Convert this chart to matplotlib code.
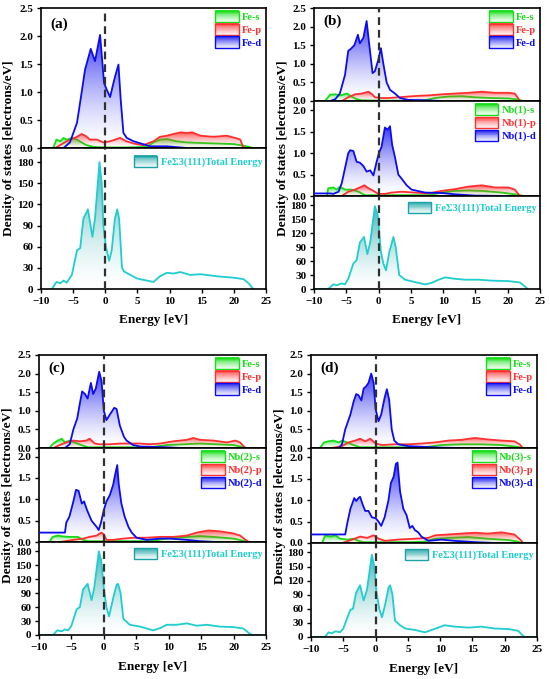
import numpy as np
import matplotlib
matplotlib.use("Agg")
import matplotlib.pyplot as plt
from matplotlib.patches import Polygon, Rectangle, Patch
from matplotlib.legend_handler import HandlerBase
from matplotlib.colors import to_rgb

plt.rcParams['font.family'] = ['Liberation Serif', 'DejaVu Serif']
plt.rcParams['font.weight'] = 'bold'

# ---------------- data ----------------
X_TICKS = [-10, -5, 0, 5, 10, 15, 20, 25]
PDOS_TICKS = [0.0, 0.5, 1.0, 1.5, 2.0, 2.5]
PDOS_TICKS_MID = [0.0, 0.5, 1.0, 1.5, 2.0]
TOT_TICKS = [0, 30, 60, 90, 120, 150, 180]
TOTAL_LABEL = "FeΣ3(111)Total Energy"
FE_LABELS = ["Fe-s", "Fe-p", "Fe-d"]
NB1_LABELS = ["Nb(1)-s", "Nb(1)-p", "Nb(1)-d"]
NB2_LABELS = ["Nb(2)-s", "Nb(2)-p", "Nb(2)-d"]
NB3_LABELS = ["Nb(3)-s", "Nb(3)-p", "Nb(3)-d"]

# panel (a)
A_E_S = [-8.1,-7.6,-7.0,-6.5,-6.0,-5.2,-4.4,-3.7,-2.9,-1.8,0,3,6.5,7.5,8.5,9.6,11.1,12.7,14.8,17.4,20.0,22.0,23.0]
A_S = [0,0.15,0.12,0.18,0.15,0.18,0.15,0.10,0.05,0.02,0.01,0.01,0.02,0.10,0.15,0.16,0.12,0.10,0.09,0.08,0.07,0.03,0]
A_E_P = [-7.8,-6.0,-4.4,-3.7,-3.1,-2.4,-1.3,-0.3,0.75,2.3,3.3,4.4,5.9,7.5,8.5,9.6,10.6,11.7,12.7,13.5,14.8,16.8,18.9,20.5,21.0,21.5]
A_P = [0,0.12,0.2,0.25,0.22,0.15,0.15,0.10,0.12,0.18,0.12,0.08,0.05,0.12,0.20,0.22,0.25,0.28,0.27,0.28,0.22,0.20,0.22,0.17,0.15,0.0]
A_E_D = [-6.5,-5.5,-4.4,-3.8,-3.15,-2.26,-1.6,-0.81,-0.19,0.23,0.75,1.27,1.53,2.05,2.4,2.82,3.34,4.4,7.0,9.6,12.7]
A_D = [0,0.1,0.45,0.9,1.4,1.77,1.55,2.02,1.16,1.04,0.91,1.16,1.28,1.49,0.86,0.27,0.18,0.12,0.03,0.03,0]
A_E_T = [-8.3,-7.6,-7.0,-6.5,-6.0,-5.2,-4.4,-3.9,-3.4,-2.7,-2.0,-1.6,-0.9,-0.55,-0.3,0.1,0.6,1.0,1.5,1.85,2.15,2.6,2.9,3.9,4.9,5.9,7.5,8.5,9.6,10.6,11.7,13.2,14.8,17.4,20.0,21.5,22.3,23.0]
A_T = [0,10,8,12,9,20,55,58,100,113,74,100,180,150,90,60,40,55,100,113,100,30,25,20,15,13,10,18,23,22,24,20,21,18,16,14,8,0]

# panel (b)
B_E_S = [-8.3,-7.5,-6.7,-6.0,-4.9,-4.2,-3.4,-2.6,0,4,7.2,8.7,10.8,12.9,14.9,17.5,20.1,21.6,22.4]
B_S = [0,0.17,0.18,0.15,0.2,0.12,0.05,0.02,0.01,0.01,0.02,0.08,0.12,0.13,0.10,0.08,0.07,0.04,0]
B_E_P = [-5.7,-4.7,-3.65,-2.6,-1.55,-1.0,-0.57,0.46,1.5,3.06,4.6,6.2,7.7,9.8,11.8,13.9,16.0,18.0,20.1,21.1,21.9]
B_P = [0,0.10,0.18,0.20,0.25,0.18,0.10,0.08,0.08,0.10,0.12,0.14,0.15,0.18,0.20,0.22,0.25,0.22,0.22,0.20,0]
B_E_D = [-7.5,-6.7,-6.0,-5.2,-4.7,-4.3,-3.75,-3.2,-2.9,-2.35,-1.85,-1.5,-0.93,-0.57,-0.05,0.36,0.74,1.25,1.77,2.55,3.3,4.6,7.2,9.8]
B_D = [0,0.05,0.2,0.7,1.35,1.4,1.5,1.78,1.55,1.7,2.15,1.6,0.75,0.8,1.1,1.42,1.0,0.5,0.3,0.2,0.08,0.03,0.02,0]
B_E_NS = [-8.0,-7.8,-7.0,-6.5,-6.0,-5.2,-4.2,-3.1,-2.1,0,5,7.7,9.8,11.8,13.9,16.0,19.1,21.6,22.4]
B_NS = [0,0.18,0.2,0.15,0.22,0.15,0.15,0.10,0.02,0.02,0.02,0.02,0.08,0.12,0.13,0.12,0.08,0.03,0]
B_E_NP = [-5.7,-4.7,-3.65,-2.6,-2.2,-1.55,-0.8,-0.05,1.0,2.0,3.6,5.6,7.7,9.8,11.8,13.9,16.0,18.0,20.1,21.1,21.9]
B_NP = [0,0.10,0.15,0.22,0.25,0.18,0.12,0.05,0.05,0.08,0.10,0.08,0.06,0.12,0.16,0.22,0.25,0.20,0.20,0.15,0]
B_E_ND = [-10,-7.5,-7.0,-6.2,-5.7,-5.2,-4.7,-4.4,-3.9,-3.4,-2.9,-2.35,-1.85,-1.3,-0.8,-0.3,0.05,0.46,0.98,1.4,1.77,2.1,2.55,3.06,3.6,4.35,5.1,7.2,9.8,11.8,14.9,20.1]
B_ND = [0.06,0.06,0.05,0.10,0.30,0.65,1.0,1.07,1.05,0.8,0.78,0.7,0.57,0.6,0.48,0.8,1.0,1.15,1.6,1.55,1.63,1.2,0.9,0.5,0.4,0.25,0.15,0.08,0.07,0.04,0.01,0]
B_E_T = [-10,-7.8,-7.0,-6.5,-5.7,-5.2,-4.7,-3.9,-3.4,-2.9,-2.25,-1.74,-1.3,-0.57,-0.15,0.36,0.74,1.15,1.67,2.3,2.65,3.2,4.1,5.6,7.2,8.2,9.3,10.3,11.8,13.4,15.5,17.5,20.1,21.9,22.7,23.1]
B_T = [0,0,10,8,12,10,22,55,62,100,112,75,100,178,160,80,55,40,80,112,90,30,20,15,10,13,20,25,22,20,20,18,17,14,5,0]

# panel (c)
C_E_S = [-8.4,-7.8,-7.1,-6.5,-6.0,-5.3,-4.5,-3.5,-2.4,0,5,7.2,9.7,12.3,14.8,17.4,20.0,22.1]
C_S = [0,0.12,0.2,0.25,0.15,0.2,0.15,0.08,0.02,0.02,0.02,0.02,0.08,0.10,0.12,0.10,0.08,0]
C_E_P = [-7.8,-6.8,-5.8,-4.7,-3.7,-2.7,-2.2,-1.4,-0.6,0.9,2.5,4.0,5.6,7.1,8.7,10.7,12.8,13.8,14.8,16.9,19.0,20.3,21.0,21.8]
C_P = [0,0.08,0.15,0.2,0.18,0.2,0.25,0.12,0.10,0.10,0.12,0.12,0.12,0.10,0.12,0.18,0.22,0.27,0.22,0.20,0.15,0.20,0.15,0]
C_E_D = [-6.0,-5.26,-4.7,-4.1,-3.7,-3.35,-2.9,-2.5,-2.0,-1.65,-1.24,-0.72,-0.36,0,0.4,0.93,1.6,1.96,2.47,3.1,3.5,4.5,5.6,7.6,9.7,11.8]
C_D = [0,0.10,0.5,0.8,1.2,1.52,1.45,1.33,1.75,1.45,1.6,2.05,1.8,1.0,0.75,0.9,1.08,1.05,0.6,0.3,0.2,0.08,0.04,0.03,0.02,0]
C_E_NS = [-8.4,-7.9,-7.1,-6.3,-5.3,-4.0,-3.2,-2.4,0,5,7.2,9.7,12.8,14.8,16.9,20.0,21.5,22.3]
C_NS = [0,0.12,0.15,0.13,0.12,0.12,0.05,0.02,0.02,0.02,0.02,0.08,0.12,0.14,0.12,0.08,0.03,0]
C_E_NP = [-6.8,-4.7,-3.2,-2.2,-1.1,-0.4,0,0.4,1.45,3.0,4.5,6.6,8.7,10.7,12.8,14.3,16.1,17.9,20.0,21.0,22.3]
C_NP = [0,0.05,0.08,0.12,0.15,0.22,0.18,0.05,0.05,0.08,0.10,0.10,0.12,0.12,0.15,0.22,0.27,0.25,0.20,0.15,0]
C_E_ND = [-10,-6.0,-5.8,-5.3,-4.7,-4.3,-3.9,-3.4,-3.05,-2.6,-1.9,-1.1,-0.8,-0.45,0,0.4,0.93,1.45,1.7,2.06,2.3,2.7,3.2,3.8,4.3,5.05,6.6,8.7,10.2,12.8,14.8,17.4]
C_ND = [0.22,0.22,0.45,0.6,0.95,1.22,1.2,0.9,0.95,0.75,0.5,0.35,0.28,0.45,0.75,0.95,1.1,1.35,1.55,1.8,1.35,0.9,0.6,0.35,0.22,0.10,0.05,0.08,0.08,0.05,0.02,0]
C_E_T = [-10,-7.8,-7.2,-6.5,-6.0,-5.5,-5.0,-4.2,-3.7,-3.2,-2.5,-1.9,-1.5,-0.77,-0.4,0,0.4,0.8,1.45,1.96,2.2,2.58,3.0,4.0,5.6,7.6,8.7,9.7,11.2,12.8,14.3,15.9,17.9,20.0,21.5,22.3,22.8,24.1]
C_T = [0,0,10,8,12,10,20,55,60,98,110,75,100,180,160,100,60,40,80,108,110,90,35,22,18,10,15,22,22,25,20,22,18,17,14,5,0,0]

# panel (d)
D_E_S = [-8.6,-8.0,-7.3,-6.5,-5.7,-5.2,-4.4,-3.4,-2.4,0,5,7.5,10.2,13.3,16.4,19.5,22.1,22.6]
D_S = [0,0.15,0.18,0.2,0.15,0.2,0.15,0.08,0.02,0.02,0.02,0.02,0.08,0.10,0.10,0.08,0.03,0]
D_E_P = [-6.8,-5.2,-4.2,-3.15,-2.4,-1.6,-0.8,0,1.0,3.0,5.1,7.1,9.2,11.3,13.3,15.4,17.4,19.5,21.5,22.3,22.8]
D_P = [0,0.05,0.15,0.2,0.25,0.18,0.25,0.12,0.08,0.10,0.10,0.12,0.15,0.20,0.22,0.27,0.23,0.20,0.18,0.10,0]
D_E_D = [-5.7,-5.2,-4.7,-3.9,-3.4,-3.0,-2.65,-2.2,-1.85,-1.5,-1.1,-0.67,-0.3,0,0.46,0.87,1.4,1.75,2.1,2.5,2.9,3.5,5.1,7.65,10.2,12.8]
D_D = [0,0.1,0.5,0.9,1.25,1.45,1.42,1.28,1.6,1.65,1.75,2.0,1.75,1.05,0.72,0.9,1.35,1.58,1.3,0.5,0.2,0.1,0.05,0.03,0.01,0]
D_E_NS = [-8.3,-7.8,-7.0,-6.2,-5.5,-4.4,-3.4,-2.65,-1.85,0,5,7.5,9.2,11.3,14.4,17.4,20.6,22.1,22.6]
D_NS = [0,0.18,0.15,0.18,0.10,0.08,0.10,0.05,0.02,0.02,0.02,0.03,0.10,0.12,0.14,0.10,0.07,0.03,0]
D_E_NP = [-5.2,-3.6,-2.4,-1.3,-0.3,0.46,1.5,3.5,6.1,8.2,9.2,11.3,13.3,15.4,17.4,19.5,21.5,22.6,22.8]
D_NP = [0,0.08,0.15,0.12,0.18,0.10,0.05,0.08,0.10,0.12,0.18,0.20,0.22,0.24,0.22,0.25,0.20,0.05,0]
D_E_ND = [-10,-4.7,-4.4,-3.9,-3.3,-3.0,-2.65,-2.4,-2.0,-1.6,-1.1,-0.57,0,0.46,0.87,1.4,2.0,2.37,2.8,3.15,3.4,3.8,4.3,4.8,5.3,5.7,6.1,6.6,7.1,8.2,10.2,12.3,15.4,18.5]
D_ND = [0.2,0.2,0.45,0.8,1.05,0.98,1.05,1.08,0.9,0.75,0.75,0.6,0.58,0.5,0.4,0.6,1.0,1.4,1.55,1.85,1.88,1.2,0.8,0.65,0.35,0.4,0.3,0.25,0.15,0.05,0.08,0.05,0.02,0]
D_E_T = [-10,-7.8,-7.3,-6.8,-6.2,-5.5,-5.0,-4.4,-3.9,-3.5,-3.0,-2.4,-1.85,-1.34,-0.57,-0.2,0.1,0.57,1.0,1.5,2.0,2.26,2.62,3.0,3.8,4.6,6.1,7.65,8.7,9.7,10.7,12.3,14.4,16.4,18.5,20.6,22.1,22.8,23.1,25]
D_T = [0,0,10,8,12,10,18,40,58,60,95,110,78,100,175,150,100,60,42,70,105,110,90,35,25,18,15,10,15,20,25,22,20,22,18,17,13,3,0,0]

# ---------------- style ----------------
GREEN = '#18DD18'
RED = '#FF3030'
BLUE = '#0C0CEE'
CYAN = '#20CDD0'
CYAN_FILL = '#1AA2A6'
TICK_FS = 8
LEG_FS = 7.5
XLABEL_FS = 9.5
YLABEL_FS = 9.6

W, H = 550, 679
fig = plt.figure(figsize=(W / 100, H / 100), dpi=100)


def add_ax(left, right, top, bottom):
    return fig.add_axes([left / W, 1 - bottom / H, (right - left) / W, (bottom - top) / H])


class GradHandler(HandlerBase):
    def __init__(self, color):
        super().__init__()
        self.color = color

    def create_artists(self, legend, orig_handle, xdescent, ydescent, width, height, fontsize, trans):
        rgb = np.array(to_rgb(self.color))
        n = 12
        arts = []
        h = height * 1.2
        y0 = -ydescent - (h - height) / 2
        for i in range(n):
            frac = i / (n - 1)
            c = 1 - (1 - rgb) * (0.08 + 0.8 * frac ** 1.2)
            arts.append(Rectangle((-xdescent, y0 + h * i / n), width, h / n + 0.2,
                                  facecolor=c, edgecolor='none', transform=trans))
        arts.append(Rectangle((-xdescent, y0), width, h, facecolor='none',
                              edgecolor=self.color, lw=1.0, transform=trans))
        return arts


def gfill(ax, E, D, color, fillcolor=None, z=2.0):
    E = np.asarray(E, float)
    D = np.asarray(D, float)
    verts = np.column_stack([np.r_[E[0], E, E[-1]], np.r_[0, D, 0]])
    poly = Polygon(verts, closed=True, facecolor='none', edgecolor='none')
    ax.add_patch(poly)
    fc = to_rgb(fillcolor or color)
    n = 200
    img = np.ones((n, 2, 4))
    img[..., :3] = fc
    t = np.linspace(1.0, 0.0, n)
    img[..., 3] = (0.82 * t ** 1.5)[:, None]
    im = ax.imshow(img, extent=[E.min(), E.max(), 0, D.max()], origin='upper',
                   aspect='auto', zorder=z, interpolation='bilinear')
    im.set_clip_path(poly)
    ax.plot(E, D, color=color, lw=1.3, zorder=z + 0.1)


def style_ax(ax, ylim, yticks, fmt, bottom_axis):
    ax.set_xlim(-10, 25)
    ax.set_ylim(*ylim)
    ax.set_xticks(X_TICKS)
    ax.set_yticks(yticks)
    ax.set_yticklabels([fmt.format(v) for v in yticks])
    ax.tick_params(axis='both', direction='out', length=3, width=1, labelsize=TICK_FS, pad=2.5)
    if bottom_axis:
        ax.set_xticklabels([("\u2212" + str(abs(v))) if v < 0 else str(v) for v in X_TICKS])
    else:
        ax.tick_params(axis='x', length=0, labelbottom=False)
    for s in ax.spines.values():
        s.set_linewidth(1.2)
    ax.axvline(0, color='#303030', ls=(0, (3.5, 2.2)), lw=1.6, zorder=6)


def pdos_panel(ax, es, s, ep, p, ed, d, labels, ylim, yticks, bottom_axis=False):
    gfill(ax, es, s, GREEN, z=2.0)
    gfill(ax, ep, p, RED, z=2.3)
    gfill(ax, ed, d, BLUE, z=2.6)
    style_ax(ax, ylim, yticks, "{:.1f}", bottom_axis)
    handles = [Patch(), Patch(), Patch()]
    hm = {h: GradHandler(c) for h, c in zip(handles, [GREEN, RED, BLUE])}
    leg = ax.legend(handles, labels, handler_map=hm, loc='upper right', frameon=False,
                    fontsize=LEG_FS, handlelength=2.3, handleheight=1.0, labelspacing=0.25,
                    handletextpad=0.3, borderaxespad=0.15, borderpad=0.2)
    for t, c in zip(leg.get_texts(), [GREEN, RED, BLUE]):
        t.set_color(c)
        t.set_fontweight('bold')


def total_panel(ax, E, T):
    gfill(ax, E, T, CYAN, fillcolor=CYAN_FILL, z=2.0)
    style_ax(ax, (0, 200), TOT_TICKS, "{:.0f}", True)
    h = Patch()
    leg = ax.legend([h], [TOTAL_LABEL], handler_map={h: GradHandler(CYAN_FILL)}, loc='upper right',
                    bbox_to_anchor=(1.0, 0.965), frameon=False, fontsize=LEG_FS, handlelength=2.3,
                    handleheight=1.0, handletextpad=0.3, borderaxespad=0.15, borderpad=0.2)
    for t in leg.get_texts():
        t.set_color(CYAN)
        t.set_fontweight('bold')


def panel_label(ax, txt):
    ax.text(0.04, 0.93, txt, transform=ax.transAxes, fontsize=11, fontweight='bold', va='top', ha='left')


def axis_labels(xc, xl_y, yl_x, yl_y):
    fig.text(xc / W, 1 - xl_y / H, "Energy [eV]", ha='center', va='center', fontsize=XLABEL_FS, fontweight='bold')
    fig.text(yl_x / W, 1 - yl_y / H, "Density of states [electrons/eV]", ha='center', va='center',
             rotation=90, fontsize=YLABEL_FS, fontweight='bold')


# (a)
a1 = add_ax(41, 266, 8, 148)
a2 = add_ax(41, 266, 148, 289)
pdos_panel(a1, A_E_S, A_S, A_E_P, A_P, A_E_D, A_D, FE_LABELS, (0, 2.5), PDOS_TICKS)
total_panel(a2, A_E_T, A_T)
panel_label(a1, "(a)")
axis_labels(153.5, 320, 9, 148)

# (b)
b1 = add_ax(314, 540, 8, 101)
b2 = add_ax(314, 540, 101, 196)
b3 = add_ax(314, 540, 196, 289)
pdos_panel(b1, B_E_S, B_S, B_E_P, B_P, B_E_D, B_D, FE_LABELS, (0, 2.5), PDOS_TICKS)
pdos_panel(b2, B_E_NS, B_NS, B_E_NP, B_NP, B_E_ND, B_ND, NB1_LABELS, (0, 2.22), PDOS_TICKS_MID)
total_panel(b3, B_E_T, B_T)
panel_label(b1, "(b)")
axis_labels(427, 320, 283, 148)

# (c)
c1 = add_ax(39, 266, 355, 448)
c2 = add_ax(39, 266, 448, 542)
c3 = add_ax(39, 266, 542, 635)
pdos_panel(c1, C_E_S, C_S, C_E_P, C_P, C_E_D, C_D, FE_LABELS, (0, 2.5), PDOS_TICKS)
pdos_panel(c2, C_E_NS, C_NS, C_E_NP, C_NP, C_E_ND, C_ND, NB2_LABELS, (0, 2.2), PDOS_TICKS_MID)
total_panel(c3, C_E_T, C_T)
panel_label(c1, "(c)")
axis_labels(152.5, 667, 8, 495)

# (d)
d1 = add_ax(311, 537, 355, 448)
d2 = add_ax(311, 537, 448, 543)
d3 = add_ax(311, 537, 543, 637)
pdos_panel(d1, D_E_S, D_S, D_E_P, D_P, D_E_D, D_D, FE_LABELS, (0, 2.5), PDOS_TICKS)
pdos_panel(d2, D_E_NS, D_NS, D_E_NP, D_NP, D_E_ND, D_ND, NB3_LABELS, (0, 2.22), PDOS_TICKS_MID)
total_panel(d3, D_E_T, D_T)
panel_label(d1, "(d)")
axis_labels(424, 669, 280, 496)

fig.savefig("out.png", dpi=100)
